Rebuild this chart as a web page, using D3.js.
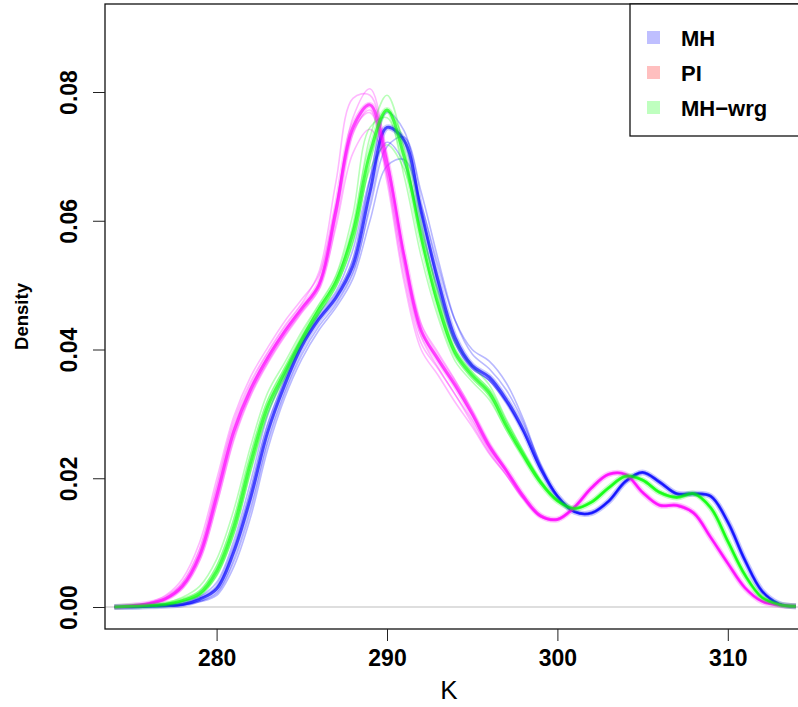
<!DOCTYPE html>
<html><head><meta charset="utf-8">
<script src="https://cdn.jsdelivr.net/npm/d3@7"></script>
<style>body{margin:0;background:#fff}svg{display:block}text{font-family:"Liberation Sans",Arial,sans-serif}</style>
</head><body>
<svg id="c" width="798" height="707"></svg>
<script>
const kValues = d3.range(274, 315, 1);
const xTicks = [280, 290, 300, 310];
const yTicks = [0, 0.02, 0.04, 0.06, 0.08];
const yTickLabels = ["0.00", "0.02", "0.04", "0.06", "0.08"];
const groups = ["MH", "PI", "MH\u2212wrg"];

const mhMain = [0,0,0.0001,0.0002,0.0004,0.0012,0.0028,0.0085,0.0170,0.0272,0.0345,0.0405,0.0447,0.0480,0.0530,0.0645,0.0745,0.0725,0.0615,0.0507,0.0418,0.0375,0.0357,0.0322,0.0275,0.0216,0.0172,0.0148,0.0146,0.0164,0.0195,0.0209,0.0194,0.0176,0.0176,0.0172,0.0132,0.0073,0.0025,0.0005,0.0001];
const mhRep1 = [0,0,0.0001,0.0002,0.0003,0.0008,0.0018,0.0062,0.0140,0.0245,0.0325,0.0385,0.0430,0.0465,0.0510,0.0600,0.0685,0.0695,0.0625,0.0530,0.0445,0.0400,0.0382,0.0348,0.0292,0.0222,0.0173,0.0148,0.0146,0.0164,0.0195,0.0209,0.0194,0.0176,0.0176,0.0172,0.0132,0.0073,0.0025,0.0005,0.0001];
const mhRep2 = [0,0,0.0001,0.0002,0.0004,0.0013,0.0031,0.0092,0.0182,0.0285,0.0352,0.0408,0.0450,0.0484,0.0540,0.0665,0.0768,0.0740,0.0615,0.0500,0.0410,0.0370,0.0352,0.0318,0.0272,0.0215,0.0172,0.0148,0.0146,0.0164,0.0196,0.0210,0.0195,0.0177,0.0177,0.0173,0.0133,0.0074,0.0025,0.0005,0.0001];
const mhRep3 = [0,0,0.0001,0.0003,0.0006,0.0016,0.0038,0.0102,0.0195,0.0298,0.0362,0.0416,0.0456,0.0490,0.0555,0.0665,0.0722,0.0690,0.0590,0.0490,0.0410,0.0372,0.0352,0.0318,0.0272,0.0215,0.0171,0.0147,0.0146,0.0165,0.0196,0.0209,0.0193,0.0175,0.0175,0.0171,0.0131,0.0072,0.0025,0.0005,0.0001];
const mhRep4 = [0,0,0.0001,0.0002,0.0003,0.0009,0.0021,0.0070,0.0150,0.0255,0.0332,0.0392,0.0436,0.0470,0.0518,0.0620,0.0715,0.0730,0.0645,0.0540,0.0445,0.0393,0.0370,0.0337,0.0287,0.0220,0.0173,0.0148,0.0146,0.0164,0.0195,0.0209,0.0194,0.0176,0.0176,0.0172,0.0132,0.0073,0.0025,0.0005,0.0001];

const piMain = [0,0.0002,0.0005,0.0013,0.0033,0.0080,0.0172,0.0272,0.0338,0.0387,0.0428,0.0464,0.0500,0.0615,0.0745,0.0780,0.0690,0.0545,0.0430,0.0385,0.0345,0.0300,0.0250,0.0212,0.0172,0.0142,0.0136,0.0155,0.0185,0.0206,0.0206,0.0178,0.0158,0.0158,0.0146,0.0108,0.0068,0.0030,0.0009,0.0003,0.0001];
const piRep1 = [0,0.0002,0.0006,0.0015,0.0038,0.0090,0.0188,0.0288,0.0350,0.0396,0.0437,0.0472,0.0520,0.0660,0.0790,0.0795,0.0670,0.0515,0.0410,0.0370,0.0330,0.0285,0.0240,0.0205,0.0168,0.0140,0.0136,0.0156,0.0186,0.0207,0.0205,0.0177,0.0158,0.0157,0.0145,0.0107,0.0067,0.0030,0.0009,0.0003,0.0001];
const piRep2 = [0,0.0002,0.0005,0.0011,0.0029,0.0072,0.0158,0.0258,0.0328,0.0378,0.0420,0.0457,0.0493,0.0590,0.0705,0.0742,0.0680,0.0550,0.0440,0.0395,0.0352,0.0305,0.0254,0.0214,0.0174,0.0143,0.0137,0.0155,0.0184,0.0205,0.0206,0.0179,0.0159,0.0158,0.0147,0.0109,0.0069,0.0031,0.0009,0.0003,0.0001];
const piRep3 = [0,0.0003,0.0007,0.0018,0.0044,0.0100,0.0198,0.0295,0.0358,0.0403,0.0444,0.0478,0.0515,0.0625,0.0740,0.0768,0.0672,0.0530,0.0420,0.0372,0.0330,0.0290,0.0245,0.0210,0.0170,0.0141,0.0135,0.0154,0.0184,0.0206,0.0206,0.0178,0.0158,0.0158,0.0146,0.0108,0.0068,0.0030,0.0009,0.0003,0.0001];
const piRep4 = [0,0.0002,0.0005,0.0012,0.0031,0.0077,0.0166,0.0266,0.0333,0.0382,0.0424,0.0460,0.0498,0.0605,0.0735,0.0772,0.0660,0.0505,0.0400,0.0360,0.0318,0.0280,0.0238,0.0205,0.0168,0.0140,0.0137,0.0156,0.0186,0.0207,0.0206,0.0178,0.0157,0.0157,0.0145,0.0107,0.0067,0.0030,0.0009,0.0003,0.0001];
const piRep5 = [0,0.0002,0.0005,0.0013,0.0034,0.0083,0.0178,0.0278,0.0342,0.0389,0.0430,0.0465,0.0502,0.0620,0.0760,0.0805,0.0700,0.0545,0.0428,0.0382,0.0342,0.0298,0.0249,0.0211,0.0171,0.0142,0.0136,0.0155,0.0185,0.0206,0.0206,0.0178,0.0158,0.0158,0.0146,0.0108,0.0068,0.0030,0.0009,0.0003,0.0001];

const wrgMain = [0,0.0001,0.0002,0.0004,0.0010,0.0021,0.0056,0.0124,0.0225,0.0312,0.0365,0.0416,0.0462,0.0505,0.0581,0.0705,0.0772,0.0700,0.0575,0.0470,0.0395,0.0360,0.0333,0.0282,0.0236,0.0194,0.0165,0.0153,0.0163,0.0185,0.0203,0.0197,0.0178,0.0170,0.0176,0.0154,0.0102,0.0050,0.0015,0.0004,0.0001];
const wrgRep1 = [0,0.0001,0.0002,0.0005,0.0012,0.0025,0.0064,0.0136,0.0238,0.0322,0.0372,0.0420,0.0465,0.0508,0.0590,0.0730,0.0795,0.0712,0.0575,0.0465,0.0390,0.0355,0.0328,0.0280,0.0235,0.0194,0.0165,0.0153,0.0163,0.0185,0.0203,0.0197,0.0178,0.0170,0.0176,0.0154,0.0102,0.0050,0.0015,0.0004,0.0001];
const wrgRep2 = [0,0.0001,0.0002,0.0004,0.0009,0.0018,0.0048,0.0112,0.0210,0.0300,0.0356,0.0410,0.0456,0.0498,0.0565,0.0680,0.0718,0.0680,0.0585,0.0490,0.0412,0.0375,0.0345,0.0292,0.0242,0.0197,0.0166,0.0153,0.0162,0.0184,0.0203,0.0198,0.0179,0.0171,0.0176,0.0155,0.0103,0.0051,0.0015,0.0004,0.0001];
const wrgRep3 = [0,0.0001,0.0003,0.0006,0.0015,0.0032,0.0074,0.0150,0.0250,0.0333,0.0380,0.0428,0.0470,0.0515,0.0610,0.0745,0.0760,0.0670,0.0545,0.0450,0.0382,0.0350,0.0322,0.0275,0.0232,0.0192,0.0164,0.0153,0.0164,0.0186,0.0204,0.0196,0.0177,0.0170,0.0175,0.0153,0.0101,0.0049,0.0015,0.0004,0.0001];
const wrgRep4 = [0,0.0001,0.0002,0.0004,0.0009,0.0019,0.0050,0.0114,0.0214,0.0304,0.0358,0.0410,0.0455,0.0497,0.0568,0.0690,0.0770,0.0725,0.0600,0.0482,0.0400,0.0365,0.0338,0.0288,0.0240,0.0197,0.0166,0.0153,0.0162,0.0184,0.0202,0.0198,0.0179,0.0171,0.0176,0.0155,0.0103,0.0051,0.0015,0.0004,0.0001];

const series = [
  {name: groups[0], color: "0,0,255", main: mhMain, reps: [mhRep1, mhRep2, mhRep3, mhRep4]},
  {name: groups[1], color: "255,0,255", main: piMain, reps: [piRep1, piRep2, piRep3, piRep4, piRep5]},
  {name: groups[2], color: "0,255,0", main: wrgMain, reps: [wrgRep1, wrgRep2, wrgRep3, wrgRep4]}
];
const legendColors = ["rgba(0,0,255,0.25)", "rgba(255,0,0,0.25)", "rgba(0,255,0,0.25)"];

const svg = d3.select("#c");
const L = 105, T = 4, B = 629;
const x = d3.scaleLinear().domain([280, 310]).range([216.6, 727.8]);
const y = d3.scaleLinear().domain([0, 0.08]).range([607, 92]);

svg.append("defs").append("clipPath").attr("id", "clip")
  .append("rect").attr("x", L).attr("y", T).attr("width", 798 - L).attr("height", B - T);

const plot = svg.append("g").attr("clip-path", "url(#clip)");
plot.append("line").attr("x1", L).attr("x2", 798).attr("y1", y(0)).attr("y2", y(0))
  .attr("stroke", "#bdbdbd").attr("stroke-width", 1.2);

const line = d3.line().x((d, i) => x(kValues[i])).y(d => y(d)).curve(d3.curveCatmullRom.alpha(0.5));

series.forEach(s => {
  s.reps.forEach(r => {
    plot.append("path").attr("d", line(r)).attr("fill", "none")
      .attr("stroke", `rgba(${s.color},0.28)`).attr("stroke-width", 1.6);
  });
});
series.forEach(s => {
  plot.append("path").attr("d", line(s.main)).attr("fill", "none")
    .attr("stroke", `rgba(${s.color},0.22)`).attr("stroke-width", 6);
  plot.append("path").attr("d", line(s.main)).attr("fill", "none")
    .attr("stroke", `rgba(${s.color},0.65)`).attr("stroke-width", 3);
});

// frame
svg.append("rect").attr("x", L).attr("y", T).attr("width", 720).attr("height", B - T)
  .attr("fill", "none").attr("stroke", "#111").attr("stroke-width", 1.3);

// x axis
const xa = svg.append("g").attr("transform", `translate(0,${B})`)
  .call(d3.axisBottom(x).tickValues(xTicks).tickSize(12).tickPadding(9).tickFormat(d3.format("d")));
xa.select(".domain").remove();
xa.selectAll("line").attr("stroke", "#222").attr("stroke-width", 1);
xa.selectAll("text").attr("font-size", 23).attr("font-weight", "bold").attr("fill", "#000")
  .attr("font-family", "Liberation Sans, Arial, sans-serif");

// y axis
const ya = svg.append("g").attr("transform", `translate(${L},0)`)
  .call(d3.axisLeft(y).tickValues(yTicks).tickSize(12).tickFormat((d, i) => yTickLabels[i]));
ya.select(".domain").remove();
ya.selectAll("line").attr("stroke", "#222").attr("stroke-width", 1);
ya.selectAll("text").attr("font-size", 23).attr("font-weight", "bold").attr("fill", "#000")
  .attr("font-family", "Liberation Sans, Arial, sans-serif")
  .attr("text-anchor", "middle").attr("dy", null).attr("x", null)
  .attr("transform", "translate(-28,0) rotate(-90)");

svg.append("text").attr("x", 449).attr("y", 699).attr("text-anchor", "middle")
  .attr("font-size", 26).text("K");
svg.append("text").attr("transform", `translate(28,${(T + B) / 2}) rotate(-90)`)
  .attr("text-anchor", "middle").attr("font-size", 18.5).attr("font-weight", "bold").text("Density");

// legend
const lg = svg.append("g");
lg.append("rect").attr("x", 630).attr("y", T).attr("width", 200).attr("height", 132)
  .attr("fill", "#fff").attr("stroke", "#111").attr("stroke-width", 1.3);
groups.forEach((g, i) => {
  const cy = 38 + i * 35;
  lg.append("rect").attr("x", 647).attr("y", cy - 7).attr("width", 13).attr("height", 13)
    .attr("fill", legendColors[i]);
  lg.append("text").attr("x", 681).attr("y", cy + 8).attr("font-size", 22)
    .attr("font-weight", "bold").text(g);
});
</script>
</body></html>
